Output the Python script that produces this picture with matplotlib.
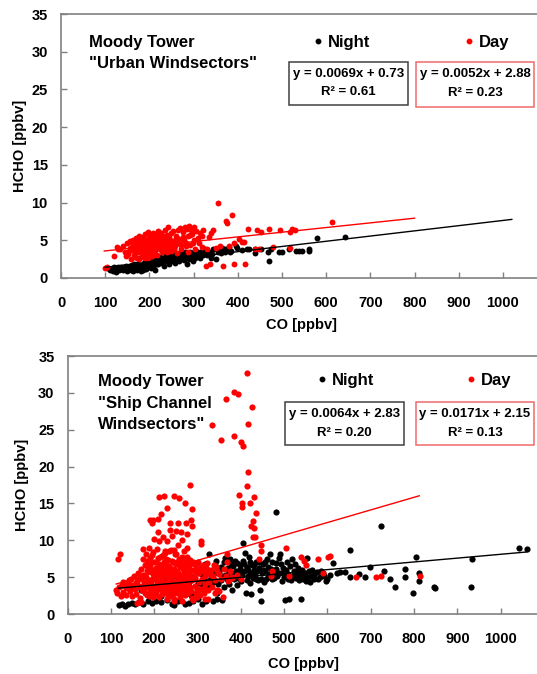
import numpy as np
import matplotlib
matplotlib.use("Agg")
import matplotlib.pyplot as plt
from matplotlib.lines import Line2D
from matplotlib.patches import Rectangle

plt.rcParams['font.family'] = ['Liberation Sans', 'DejaVu Sans']
plt.rcParams['font.weight'] = 'bold'

# ---------------- DATA ----------------
x_ticks = [0, 100, 200, 300, 400, 500, 600, 700, 800, 900, 1000]
y_ticks = [0, 5, 10, 15, 20, 25, 30, 35]

# Top panel: Urban windsectors
urban_night = [
    (105, 1.3), (110, 1.1), (115, 1.2), (118, 0.9), (122, 1.0), (125, 0.8), (128, 1.3), (132, 1.1),
    (135, 1.5), (140, 1.0), (143, 1.4), (148, 1.2), (150, 0.9), (155, 1.6), (158, 1.1), (160, 1.3),
    (163, 0.9), (165, 1.8), (168, 1.2), (170, 1.5), (172, 1.0), (175, 1.3), (178, 1.7), (180, 0.9),
    (182, 1.4), (185, 1.1), (188, 2.0), (190, 1.5), (193, 1.2), (195, 1.8), (198, 2.2), (200, 1.6),
    (203, 1.3), (205, 2.0), (208, 2.4), (210, 1.7), (212, 1.0), (215, 2.1), (218, 2.5), (220, 1.9),
    (223, 2.3), (225, 2.8), (228, 2.0), (230, 2.6), (233, 1.6), (235, 2.4), (238, 3.0), (240, 2.2),
    (243, 2.7), (245, 1.8), (248, 2.5), (250, 3.1), (253, 2.3), (255, 2.8), (258, 2.0), (260, 3.2),
    (263, 2.6), (265, 2.9), (268, 2.2), (270, 3.3), (273, 2.7), (275, 3.0), (278, 2.4), (280, 3.4),
    (283, 2.8), (285, 1.9), (288, 3.1), (290, 2.5), (293, 3.5), (295, 2.9), (298, 2.2), (300, 3.2),
    (303, 2.7), (305, 3.6), (310, 3.0), (315, 2.6), (320, 3.3), (325, 3.8), (330, 3.1), (335, 3.5),
    (340, 2.6), (345, 3.9), (350, 2.5), (355, 3.4), (360, 3.7), (365, 4.0), (370, 3.5), (375, 3.8),
    (380, 4.1), (385, 3.6), (395, 4.3), (398, 4.0), (410, 3.7), (420, 3.9), (425, 3.8), (440, 3.8),
    (440, 3.3), (452, 3.9), (469, 3.5), (471, 2.3), (475, 3.8), (493, 3.5), (500, 3.5), (516, 3.8),
    (531, 3.6), (539, 3.6), (545, 3.6), (562, 3.9), (562, 3.6), (580, 5.3), (642, 5.4),
    (120, 1.5), (130, 1.4), (138, 1.2), (146, 1.6), (153, 1.4), (161, 1.7), (167, 1.5), (173, 1.9),
    (179, 1.3), (186, 1.6), (191, 2.1), (197, 1.4), (204, 1.8), (211, 2.3), (217, 1.9), (224, 2.5),
    (231, 2.2), (237, 2.7), (244, 2.4), (251, 2.6), (257, 3.0), (264, 2.5), (271, 2.9), (277, 2.6),
    (284, 3.2), (291, 2.8), (297, 3.3), (306, 3.0), (314, 3.4), (322, 3.0), (331, 3.6), (342, 3.2),
    (352, 3.8), (362, 3.3), (372, 3.9), (383, 3.5),
]
urban_day = [
    (99, 1.3), (105, 1.5), (120, 2.9), (126, 4.1), (128, 3.8), (134, 3.9), (140, 4.2), (145, 3.5),
    (148, 2.9), (150, 4.6), (152, 3.2), (155, 4.0), (157, 4.9), (158, 2.5), (160, 3.7), (162, 4.4),
    (163, 5.1), (165, 3.0), (166, 4.7), (168, 3.9), (170, 5.3), (171, 2.6), (172, 4.2), (174, 3.4),
    (175, 4.9), (176, 5.6), (178, 3.8), (179, 4.5), (180, 2.8), (181, 5.1), (183, 4.0), (184, 3.3),
    (185, 5.4), (186, 4.6), (188, 3.6), (189, 5.8), (190, 4.3), (191, 2.7), (192, 5.0), (194, 3.9),
    (195, 4.7), (196, 6.1), (197, 3.2), (198, 5.3), (200, 4.4), (201, 5.7), (202, 3.7), (204, 4.9),
    (205, 2.9), (206, 5.5), (207, 4.1), (209, 6.0), (210, 3.5), (211, 5.2), (212, 4.6), (214, 3.9),
    (215, 5.8), (216, 4.3), (218, 3.1), (219, 5.0), (220, 6.2), (221, 4.7), (223, 3.8), (224, 5.4),
    (225, 4.2), (227, 6.0), (228, 3.4), (229, 4.9), (230, 5.6), (232, 4.4), (233, 3.7), (235, 5.2),
    (236, 6.4), (238, 4.0), (239, 5.7), (240, 3.5), (241, 4.8), (243, 6.7), (245, 5.4), (246, 4.3),
    (248, 3.6), (250, 5.9), (252, 4.6), (253, 6.2), (255, 3.9), (257, 5.1), (258, 4.3), (260, 5.6),
    (262, 3.3), (265, 6.3), (267, 4.7), (270, 6.6), (272, 3.8), (275, 6.1), (278, 5.0), (280, 6.8),
    (283, 4.2), (285, 6.5), (288, 3.5), (290, 6.9), (293, 5.7), (295, 6.4), (298, 4.6), (300, 6.7),
    (303, 3.9), (305, 6.2), (310, 5.3), (315, 6.0), (318, 4.1), (322, 6.3), (328, 1.6), (330, 3.9),
    (335, 5.4), (338, 1.8), (340, 6.0), (345, 6.4), (350, 4.0), (356, 10.0), (360, 4.2), (367, 1.6),
    (373, 7.6), (375, 7.3), (380, 4.3), (386, 8.4), (391, 1.9), (391, 4.7), (403, 5.2), (410, 4.8),
    (415, 4.8), (417, 1.9), (424, 6.5), (440, 3.9), (443, 6.4), (447, 3.8), (452, 6.1), (471, 6.5),
    (479, 4.1), (495, 6.3), (518, 6.1), (518, 4.0), (522, 6.5), (530, 6.3), (614, 7.4),
    (153, 3.6), (159, 4.8), (164, 4.0), (169, 3.4), (173, 4.6), (177, 5.2), (182, 3.6), (187, 4.9),
    (193, 4.2), (199, 3.4), (203, 5.0), (208, 4.4), (213, 3.7), (217, 5.2), (222, 4.5), (226, 3.9),
    (231, 5.0), (234, 4.2), (237, 5.6), (242, 4.1), (247, 5.0), (251, 4.0), (256, 4.8), (261, 4.5),
    (266, 5.2), (271, 4.4), (276, 5.4), (282, 4.6), (287, 5.6), (292, 4.4), (297, 5.8), (302, 5.1),
    (312, 4.6), (320, 5.6), (168, 2.8), (177, 2.5), (186, 3.0), (196, 2.6), (206, 3.3),
]
# Trendlines as drawn: slope, intercept, x-start, x-end
urban_night_fit = (0.0069, 0.73, 100, 1020)
urban_day_fit = (0.0062, 2.97, 98, 800)
urban_night_eq = ["y = 0.0069x + 0.73", "R² = 0.61"]
urban_day_eq = ["y = 0.0052x + 2.88", "R² = 0.23"]

# Bottom panel: Ship Channel windsectors
ship_night = [
    (118, 1.2), (125, 1.3), (132, 1.1), (140, 1.4), (148, 1.5), (155, 1.3), (165, 1.6), (175, 1.4),
    (185, 1.7), (195, 1.5), (205, 1.8), (215, 1.6), (230, 1.9), (240, 1.4), (245, 1.2), (255, 1.8),
    (270, 1.3), (280, 1.5), (290, 1.7), (300, 2.0), (310, 1.3), (320, 1.8), (335, 1.7), (345, 2.1),
    (356, 1.9), (150, 3.6), (160, 3.9), (170, 3.3), (180, 4.1), (190, 2.8), (200, 3.7), (210, 4.4),
    (215, 2.5), (220, 3.2), (225, 4.8), (230, 3.9), (235, 2.9), (240, 4.5), (245, 3.5), (250, 5.2),
    (255, 4.1), (260, 3.0), (265, 4.7), (270, 5.6), (275, 3.8), (280, 4.4), (285, 2.6), (290, 5.0),
    (295, 6.0), (300, 4.2), (305, 3.4), (310, 5.4), (315, 4.8), (320, 6.3), (325, 3.7), (327, 8.2),
    (330, 5.1), (335, 4.4), (340, 6.6), (345, 2.8), (350, 5.7), (355, 4.6), (360, 7.0), (362, 3.6),
    (365, 5.3), (370, 6.2), (372, 4.1), (375, 7.4), (378, 5.0), (380, 3.2), (382, 6.5), (385, 4.7),
    (388, 5.8), (390, 6.9), (392, 3.9), (395, 5.4), (398, 6.1), (400, 4.5), (404, 9.6), (405, 7.2),
    (408, 5.9), (410, 8.3), (412, 2.9), (414, 6.4), (416, 5.1), (418, 7.8), (420, 4.2), (422, 5.6),
    (424, 2.7), (425, 6.7), (428, 4.9), (430, 6.0), (433, 5.3), (436, 7.1), (440, 4.6), (443, 6.2),
    (446, 1.8), (445, 3.2), (448, 5.5), (450, 6.8), (453, 4.3), (456, 5.8), (460, 7.4), (463, 5.0),
    (467, 8.2), (470, 6.1), (473, 4.7), (480, 13.8), (477, 5.6), (480, 6.9), (484, 5.2), (488, 7.6),
    (491, 8.2), (494, 4.5), (497, 6.3), (501, 1.9), (500, 5.0), (507, 7.0), (510, 5.4), (511, 2.0),
    (515, 4.6), (518, 7.4), (522, 5.8), (527, 4.9), (532, 6.2), (536, 5.3), (539, 2.1), (543, 4.7),
    (547, 5.6), (553, 7.6), (556, 5.0), (560, 4.4), (565, 6.0), (570, 5.3), (577, 4.7), (585, 5.8),
    (592, 5.2), (600, 4.8), (606, 5.3), (613, 6.9), (621, 5.6), (630, 5.7), (640, 5.7), (652, 8.7),
    (652, 5.0), (673, 5.4), (686, 5.0), (698, 6.4), (723, 11.9), (730, 5.8), (745, 4.8), (756, 3.6),
    (779, 6.1), (779, 5.0), (798, 2.8), (804, 7.8), (811, 5.6), (811, 4.5), (846, 3.7), (848, 3.5),
    (932, 3.7), (933, 7.4), (1043, 9.0), (1060, 8.8),
    (302, 5.8), (312, 4.0), (318, 6.8), (328, 4.6), (338, 5.5), (343, 7.2), (348, 4.1), (353, 6.4),
    (358, 5.1), (363, 7.6), (368, 4.8), (373, 5.8), (377, 6.8), (383, 5.5), (387, 7.2), (393, 4.9),
    (397, 6.6), (402, 5.3), (407, 6.8), (413, 4.6), (417, 6.0), (421, 7.0), (426, 5.4), (431, 6.6),
    (435, 4.8), (438, 5.9), (442, 7.0), (447, 4.8), (451, 6.0), (455, 7.0), (458, 4.7), (462, 6.4),
    (466, 5.4), (471, 7.0), (476, 4.9), (482, 6.1), (487, 5.6), (493, 6.8), (498, 5.5), (504, 6.0),
    (509, 4.7), (514, 6.5), (520, 5.1), (525, 6.8), (530, 5.5), (535, 4.6), (541, 6.0), (546, 5.0),
    (551, 4.5), (558, 5.8), (563, 5.1), (568, 4.8), (575, 5.7), (582, 5.0), (590, 5.6), (597, 4.5),
]
ship_day = [
    (413, 32.7), (383, 30.1), (393, 29.9), (366, 29.1), (425, 28.1), (416, 25.8), (333, 25.7),
    (353, 23.6), (385, 24.2), (400, 23.4), (406, 22.8), (416, 19.2), (413, 17.3), (396, 16.2),
    (403, 15.0), (403, 14.5), (431, 15.9), (422, 15.1), (435, 13.7), (429, 12.6), (431, 11.7),
    (423, 12.0), (429, 10.5), (433, 10.4), (447, 9.3), (447, 8.6), (505, 9.0),
    (282, 17.5), (211, 15.9), (222, 16.0), (245, 16.0), (256, 15.8), (270, 15.0), (229, 14.4),
    (286, 14.3), (215, 13.6), (209, 12.9), (191, 12.7), (198, 12.8), (194, 12.3), (236, 12.3),
    (254, 12.3), (274, 12.3), (285, 12.8), (288, 12.0), (236, 11.4), (250, 11.3), (261, 11.1),
    (276, 10.8), (309, 9.9), (309, 9.5), (116, 7.4), (120, 8.1), (175, 8.8), (187, 8.9), (211, 9.9),
    (230, 9.9), (209, 11.1), (219, 10.5), (200, 10.2), (240, 10.6), (265, 10.0), (255, 9.4),
    (275, 9.0), (225, 8.5), (245, 8.7),
    (601, 7.7), (579, 7.5), (539, 7.8), (545, 7.2), (551, 6.7), (590, 5.6), (606, 7.9), (666, 5.0),
    (712, 5.0), (724, 5.2), (813, 5.2), (368, 8.1), (368, 7.0), (443, 7.4), (380, 5.0), (471, 5.9),
    (512, 5.2), (470, 5.1), (358, 2.3), (317, 2.1), (298, 2.3),
    (112, 3.2), (115, 2.8), (118, 3.6), (122, 2.5), (125, 3.9), (128, 3.0), (132, 4.2), (135, 2.6),
    (138, 3.5), (142, 4.6), (145, 3.1), (148, 2.4), (150, 4.0), (152, 5.1), (155, 3.4), (157, 2.7),
    (160, 4.5), (162, 5.6), (164, 3.8), (166, 2.2), (168, 4.9), (170, 6.1), (172, 3.3), (174, 5.3),
    (176, 4.2), (178, 6.7), (179, 2.9), (180, 5.0), (182, 3.7), (184, 7.2), (185, 4.6), (187, 2.5),
    (188, 5.8), (190, 3.9), (191, 6.5), (193, 4.4), (194, 8.0), (196, 3.2), (197, 5.4), (199, 7.0),
    (200, 4.8), (202, 2.7), (203, 6.2), (205, 3.6), (206, 5.7), (208, 7.6), (209, 4.3), (211, 2.3),
    (212, 6.8), (214, 5.1), (215, 3.8), (217, 7.9), (218, 4.6), (220, 6.0), (221, 3.1), (223, 5.5),
    (224, 8.3), (226, 4.0), (227, 6.6), (229, 2.8), (230, 5.2), (232, 7.3), (233, 4.5), (235, 3.4),
    (236, 6.3), (238, 8.7), (239, 4.9), (241, 2.4), (242, 5.9), (244, 7.1), (245, 3.7), (247, 5.3),
    (248, 6.9), (250, 4.2), (251, 8.1), (253, 3.0), (254, 5.6), (256, 7.5), (257, 4.4), (259, 6.4),
    (260, 2.6), (262, 5.0), (263, 7.8), (265, 3.9), (266, 6.1), (268, 4.7), (269, 8.5), (271, 3.3),
    (272, 5.8), (274, 7.0), (275, 4.1), (277, 6.5), (278, 2.9), (280, 5.4), (282, 7.3), (283, 3.6),
    (285, 6.0), (287, 4.6), (288, 2.2), (290, 5.2), (292, 6.8), (293, 3.8), (295, 4.9), (297, 6.3),
    (299, 3.2), (300, 5.6), (302, 7.1), (304, 4.3), (306, 2.6), (308, 5.9), (310, 4.7), (312, 6.6),
    (314, 3.5), (316, 5.2), (318, 4.1), (320, 6.2), (323, 2.0), (325, 5.5), (327, 4.4), (330, 6.0),
    (333, 3.7), (336, 5.1), (340, 4.6), (343, 6.4), (346, 3.3), (350, 5.4), (355, 4.8), (360, 6.1),
    (365, 5.2), (370, 4.5), (375, 5.9), (380, 4.9), (390, 5.3), (400, 4.7),
    (171, 4.8), (177, 3.5), (183, 5.9), (186, 4.1), (189, 6.9), (192, 3.0), (195, 4.7), (198, 6.0),
    (201, 3.5), (204, 5.0), (207, 4.1), (210, 6.4), (213, 3.4), (216, 5.5), (219, 4.2), (222, 7.0),
    (225, 3.6), (228, 5.8), (231, 4.6), (234, 6.5), (237, 3.9), (240, 5.1), (243, 4.3), (246, 6.1),
    (249, 3.5), (252, 5.7), (255, 4.8), (258, 6.7), (261, 3.7), (264, 5.3), (267, 4.5), (270, 6.2),
    (273, 3.4), (276, 5.0), (279, 4.3), (281, 6.6),
    (160, 1.5), (170, 1.6), (230, 2.0), (245, 2.1), (260, 2.3), (290, 1.9), (245, 1.7), (265, 1.8),
    (173, 7.5), (181, 8.2), (186, 6.3), (190, 7.6), (195, 5.9), (198, 8.4), (203, 7.1), (206, 8.8),
    (210, 5.3), (213, 7.7), (216, 6.5), (219, 8.0), (222, 5.1), (226, 7.4), (229, 6.2), (233, 8.6),
    (236, 5.5), (240, 7.2), (243, 6.0), (247, 8.2), (250, 5.8), (253, 7.0), (257, 5.2), (260, 6.9),
    (264, 7.5), (268, 5.6), (272, 6.8), (276, 7.7), (280, 6.3), (284, 5.1), (289, 7.0), (294, 5.8),
    (298, 6.9), (303, 5.5), (309, 6.4), (315, 5.9), (322, 6.9), (330, 5.3), (338, 6.7), (345, 5.8),
    (183, 2.6), (190, 3.3), (197, 2.3), (204, 3.0), (211, 3.7), (218, 2.7), (225, 3.3), (232, 2.5),
    (240, 3.1), (248, 2.8), (255, 3.3), (263, 3.0), (270, 2.6), (285, 3.1), (296, 2.8), (305, 3.4),
    (315, 2.9), (325, 3.3), (340, 2.8), (350, 3.1), (127, 4.4), (134, 3.6), (141, 3.9), (147, 4.8),
    (153, 3.8), (158, 4.2), (163, 4.7), (167, 3.6),
]
ship_night_fit = (0.0052, 2.90, 117, 1060)
ship_day_fit = (0.0171, 2.15, 112, 812)
ship_night_eq = ["y = 0.0064x + 2.83", "R² = 0.20"]
ship_day_eq = ["y = 0.0171x + 2.15", "R² = 0.13"]

# ---------------- FIGURE ----------------
W, H = 537, 674
fig = plt.figure(figsize=(W / 100, H / 100), dpi=100)
fig.patch.set_facecolor("white")

def add_ax(l, t, r, b):
    return fig.add_axes([l / W, 1 - b / H, (r - l) / W, (b - t) / H])

def fx(x):
    return x / W

def fy(y):
    return 1 - y / H

SPINE = "#808080"

def style_axes(ax, xmax):
    ax.set_xlim(0, xmax)
    ax.set_ylim(0, 35)
    ax.set_xticks(x_ticks)
    ax.set_yticks(y_ticks)
    for s in ["left", "bottom", "top"]:
        ax.spines[s].set_color(SPINE)
        ax.spines[s].set_linewidth(1.2)
    ax.spines["right"].set_visible(False)
    ax.tick_params(axis="both", direction="in", length=4, width=1, color=SPINE,
                   labelsize=10.5, labelcolor="black")
    ax.tick_params(axis="x", pad=13)
    ax.tick_params(axis="y", pad=9.5)
    for lab in ax.get_xticklabels() + ax.get_yticklabels():
        lab.set_fontweight("bold")

def draw_panel(ax, night, day, nfit, dfit, s):
    nx = [p[0] for p in night]; ny = [p[1] for p in night]
    dx = [p[0] for p in day]; dy = [p[1] for p in day]
    ax.scatter(nx, ny, s=s, c="black", linewidths=0, zorder=2)
    ax.scatter(dx, dy, s=s, c="#ff0000", linewidths=0, zorder=3)
    for fit, col in [(nfit, "black"), (dfit, "#ff0000")]:
        m, b, x0, x1 = fit
        xs = np.array([x0, x1])
        ax.plot(xs, m * xs + b, color=col, lw=1.0, zorder=4)

def legend(ax, x_left, y_center, gap_col):
    h = [Line2D([], [], ls="none", marker="o", ms=3.2, color="black"),
         Line2D([], [], ls="none", marker="o", ms=3.2, color="#ff0000")]
    ax.legend(h, ["Night", "Day"], ncol=2, loc="center left",
              bbox_to_anchor=(fx(x_left), fy(y_center)), bbox_transform=fig.transFigure,
              frameon=False, handlelength=0.6, handletextpad=0.3, columnspacing=gap_col,
              borderpad=0, borderaxespad=0, prop={"size": 12, "weight": "bold"})

def eq_box(l, t, r, b, lines, y1, y2, edge):
    fig.add_artist(Rectangle((fx(l), fy(b)), (r - l) / W, (b - t) / H, transform=fig.transFigure,
                             facecolor="white", edgecolor=edge, lw=1.1, zorder=5))
    cx = fx((l + r) / 2)
    fig.text(cx, fy(y1), lines[0], ha="center", va="center", fontsize=9.5, fontweight="bold", zorder=6)
    fig.text(cx, fy(y2), lines[1], ha="center", va="center", fontsize=9.5, fontweight="bold", zorder=6)

# Top panel
ax1 = add_ax(61, 14, 537, 278)
style_axes(ax1, 1077)
draw_panel(ax1, urban_night, urban_day, urban_night_fit, urban_day_fit, 18)
fig.text(fx(89), fy(47), "Moody Tower", fontsize=12, fontweight="bold", va="baseline")
fig.text(fx(89), fy(68), "\"Urban Windsectors\"", fontsize=12, fontweight="bold", va="baseline")
legend(ax1, 313, 42, 5.6)
eq_box(289, 62, 408, 105, urban_night_eq, 73.5, 92, "#404040")
eq_box(416, 62, 534, 107, urban_day_eq, 74, 93, "#f06a6a")
fig.text(fx(20), fy(146), "HCHO [ppbv]", rotation=90, ha="center", va="center",
         fontsize=10.5, fontweight="bold")
fig.text(fx(302), fy(325), "CO [ppbv]", ha="center", va="center", fontsize=10.5, fontweight="bold")

# Bottom panel
ax2 = add_ax(67.7, 356, 537, 614)
style_axes(ax2, 1084)
draw_panel(ax2, ship_night, ship_day, ship_night_fit, ship_day_fit, 20)
fig.text(fx(98), fy(386), "Moody Tower", fontsize=12, fontweight="bold", va="baseline")
fig.text(fx(98), fy(408), "\"Ship Channel", fontsize=12, fontweight="bold", va="baseline")
fig.text(fx(98), fy(429), "Windsectors\"", fontsize=12, fontweight="bold", va="baseline")
legend(ax2, 317, 380, 5.5)
eq_box(285, 402, 404, 445, ship_night_eq, 414, 433, "#404040")
eq_box(416, 402, 534, 445, ship_day_eq, 414, 433, "#f06a6a")
fig.text(fx(22), fy(485), "HCHO [ppbv]", rotation=90, ha="center", va="center",
         fontsize=10.5, fontweight="bold")
fig.text(fx(304), fy(664), "CO [ppbv]", ha="center", va="center", fontsize=10.5, fontweight="bold")

fig.savefig("out.png", dpi=100, facecolor="white")
